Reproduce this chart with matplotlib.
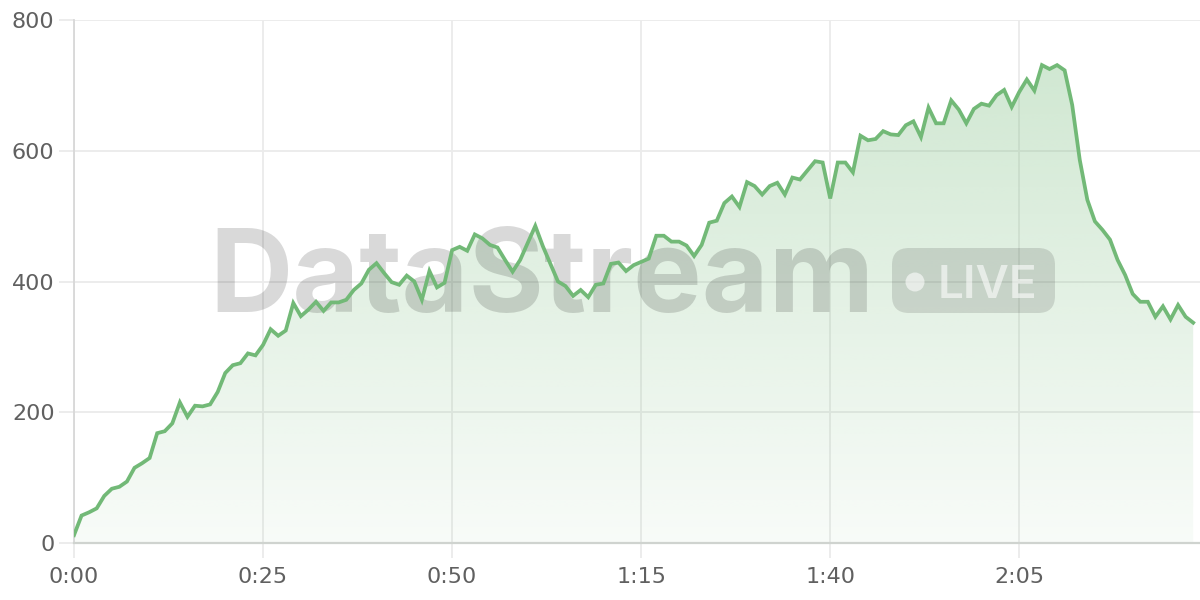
import numpy as np
import matplotlib
matplotlib.use("Agg")
import matplotlib.pyplot as plt
from matplotlib.patches import FancyBboxPatch, Circle, Polygon
from matplotlib.colors import to_rgb

# ---- data (one value per second) ----
values = [12, 42, 47, 53, 72, 83, 86, 94, 115, 122,
          130, 168, 171, 183, 215, 193, 210, 209, 212, 231,
          260, 272, 275, 290, 287, 303, 327, 317, 325, 367,
          347, 357, 369, 355, 368, 368, 372, 387, 397, 418,
          428, 413, 399, 395, 409, 400, 372, 416, 391, 398,
          448, 453, 447, 472, 466, 456, 452, 433, 415, 433,
          459, 485, 454, 427, 400, 393, 378, 387, 376, 395,
          397, 427, 429, 416, 425, 430, 435, 470, 470, 461,
          461, 455, 439, 456, 490, 493, 520, 530, 514, 552,
          546, 533, 546, 551, 533, 559, 556, 570, 584, 582,
          527, 582, 582, 567, 623, 616, 618, 630, 625, 624,
          639, 645, 621, 666, 642, 642, 677, 663, 642, 664,
          672, 669, 685, 693, 667, 690, 709, 692, 731, 725,
          731, 723, 670, 586, 525, 492, 479, 464, 433, 410,
          381, 369, 369, 346, 362, 342, 364, 346, 337]
seconds = np.arange(len(values))
x_ticks = [0, 25, 50, 75, 100, 125]
x_tick_labels = ["0:00", "0:25", "0:50", "1:15", "1:40", "2:05"]
y_ticks = [0, 200, 400, 600, 800]
y_tick_labels = ["0", "200", "400", "600", "800"]
watermark_text = "DataStream"
badge_text = "LIVE"

line_color = "#72b977"
grid_color = "#ebebeb"
label_color = "#606060"

fig = plt.figure(figsize=(12, 6), dpi=100)
ax = fig.add_axes([74 / 1200, 57 / 600, (1200 - 74) / 1200, 523 / 600])
ax.set_xlim(0, 148.9)
ax.set_ylim(0, 800)

# gradient fill under the line
y = np.array(values, dtype=float)
x = seconds.astype(float)
ymax = y.max()
ngrad = 256
alphas = np.linspace(0.05, 0.33, ngrad)[:, None]
r, g, b = to_rgb(line_color)
img = np.zeros((ngrad, 2, 4))
img[..., 0] = r
img[..., 1] = g
img[..., 2] = b
img[..., 3] = alphas
im = ax.imshow(img, extent=[x[0], x[-1], 0, ymax], origin="lower",
               aspect="auto", zorder=1, interpolation="bilinear")
poly = Polygon(np.column_stack([np.r_[x[0], x, x[-1]], np.r_[0, y, 0]]),
               closed=True, facecolor="none", edgecolor="none")
ax.add_patch(poly)
im.set_clip_path(poly)

ax.plot(x, y, color=line_color, lw=2.7, zorder=5, solid_joinstyle="miter")

# grid & axes styling
ax.set_xticks(x_ticks)
ax.set_xticklabels(x_tick_labels)
ax.set_yticks(y_ticks)
ax.set_yticklabels(y_tick_labels)
ax.grid(True, color=grid_color, lw=1.3, zorder=0)
ax.set_axisbelow(True)
for s in ["top", "right"]:
    ax.spines[s].set_visible(False)
ax.spines["left"].set_color("#d8d8d8")
ax.spines["left"].set_linewidth(1.3)
ax.spines["bottom"].set_color("#cfd3cf")
ax.spines["bottom"].set_linewidth(1.6)
ax.tick_params(axis="both", length=11, width=1.3, color=grid_color,
               labelcolor=label_color, labelsize=16)
ax.tick_params(axis="y", pad=3)
ax.tick_params(axis="x", pad=6)
for lab in ax.get_xticklabels() + ax.get_yticklabels():
    lab.set_family(["DejaVu Sans"])

# watermark (drawn inside axes, below the line)
T = fig.dpi_scale_trans
ax.text(2.09, (600 - 312) / 100, watermark_text, transform=T,
        fontsize=83, fontweight="bold", family=["Inter", "DejaVu Sans"],
        color=(0, 0, 0, 0.15), ha="left", va="baseline", zorder=3,
        clip_on=False)
badge = FancyBboxPatch((8.92 + 0.17, (600 - 313) / 100 + 0.17),
                       10.55 - 8.92 - 0.34, (313 - 248) / 100 - 0.34,
                       boxstyle="round,pad=0.17", transform=T,
                       facecolor=(0, 0, 0, 0.12), edgecolor="none",
                       zorder=3, clip_on=False)
ax.add_patch(badge)
ax.add_patch(Circle((9.15, (600 - 282) / 100), 0.095, transform=T,
                    facecolor=(1, 1, 1, 0.58), edgecolor="none",
                    zorder=3.5, clip_on=False))
ax.text(9.38, (600 - 298) / 100, badge_text, transform=T,
        fontsize=33, fontweight="semibold", family=["Inter", "DejaVu Sans"],
        color=(1, 1, 1, 0.58), ha="left", va="baseline", zorder=3.5,
        clip_on=False)

fig.savefig("out.png", dpi=100)
